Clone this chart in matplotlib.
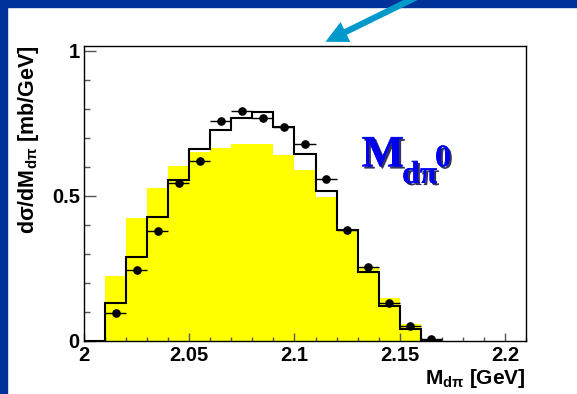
import numpy as np
import matplotlib
matplotlib.use("Agg")
import matplotlib.pyplot as plt
from matplotlib.patches import Rectangle, FancyArrowPatch
from matplotlib.ticker import MultipleLocator
import matplotlib.patheffects as pe

plt.rcParams["font.family"] = ["Liberation Sans", "DejaVu Sans"]
plt.rcParams["mathtext.fontset"] = "custom"
plt.rcParams["mathtext.rm"] = "Liberation Sans:bold"
plt.rcParams["mathtext.it"] = "Liberation Sans:bold"
plt.rcParams["mathtext.bf"] = "Liberation Sans:bold"

# Bin edges of the d-pi invariant mass histograms [GeV]
bin_edges = [2.00, 2.01, 2.02, 2.03, 2.04, 2.05, 2.06, 2.07, 2.08, 2.09,
             2.10, 2.11, 2.12, 2.13, 2.14, 2.15, 2.16, 2.17]

# Model curve (black step line) [mb/GeV]
model_values = [0.0, 0.130, 0.288, 0.427, 0.554, 0.661, 0.728, 0.768, 0.790,
                0.737, 0.645, 0.516, 0.381, 0.238, 0.121, 0.039, 0.0]

# Alternative calculation (yellow filled histogram) [mb/GeV]
band_values = [0.0, 0.224, 0.424, 0.528, 0.602, 0.650, 0.664, 0.678, 0.678,
               0.641, 0.589, 0.497, 0.381, 0.253, 0.146, 0.057, 0.0]

# Measured points
data_x = [2.015, 2.025, 2.035, 2.045, 2.055, 2.065, 2.075, 2.085,
          2.095, 2.105, 2.115, 2.125, 2.135, 2.145, 2.155, 2.165]
data_y = [0.094, 0.243, 0.380, 0.543, 0.620, 0.758, 0.793, 0.770,
          0.738, 0.678, 0.558, 0.383, 0.255, 0.131, 0.052, 0.005]
data_xerr = 0.005

x_ticks = [2.0, 2.05, 2.1, 2.15, 2.2]
x_tick_labels = ["2", "2.05", "2.1", "2.15", "2.2"]
y_ticks = [0, 0.5, 1]
y_tick_labels = ["0", "0.5", "1"]

W, H = 577, 394
fig = plt.figure(figsize=(W / 100, H / 100), dpi=100)
fig.patch.set_facecolor("white")

# slide frame: dark blue band on top and left
fig.add_artist(Rectangle((0, 1 - 7 / H), 1, 7 / H, transform=fig.transFigure,
                         color="#003399", zorder=0))
fig.add_artist(Rectangle((0, 0), 7 / W, 1, transform=fig.transFigure,
                         color="#003399", zorder=0))

ax = fig.add_axes([84 / W, (H - 340.7) / H, (526 - 84) / W, (340.7 - 45.7) / H])

ax.stairs(band_values, bin_edges, fill=True, color="#ffff00", linewidth=0, zorder=1)
ax.stairs(model_values, bin_edges, baseline=None, color="black", linewidth=1.5, zorder=2)
ax.errorbar(data_x, data_y, xerr=data_xerr, fmt="o", color="black", ms=5.2,
            elinewidth=1.0, capsize=0, zorder=3)

ax.set_xlim(2.0, 2.21)
ax.set_ylim(0, 1.018)

ax.set_xticks(x_ticks)
ax.set_xticklabels(x_tick_labels)
ax.set_yticks(y_ticks)
ax.set_yticklabels(y_tick_labels)
ax.xaxis.set_minor_locator(MultipleLocator(0.01))
ax.yaxis.set_minor_locator(MultipleLocator(0.1))

ax.tick_params(axis="both", which="both", direction="in", color="#555555",
               top=False, right=False, width=1)
ax.tick_params(axis="x", which="major", length=5.8, pad=4)
ax.tick_params(axis="x", which="minor", length=3.2)
ax.tick_params(axis="y", which="major", length=8.6, pad=3)
ax.tick_params(axis="y", which="minor", length=4.3)
for lab in ax.get_xticklabels() + ax.get_yticklabels():
    lab.set_fontsize(14.5)
    lab.set_fontweight("bold")

for s in ax.spines.values():
    s.set_linewidth(1.0)
    s.set_color("black")

ax.set_ylabel(r"d$\sigma$/dM$_{d\pi}$ [mb/GeV]", fontsize=15.5, fontweight="bold",
              loc="top")
ax.yaxis.set_label_coords(-0.097, 1.0)
ax.set_xlabel(r"M$_{d\pi}$ [GeV]", fontsize=15, fontweight="bold", loc="right")
ax.xaxis.set_label_coords(1.0, -0.088)

# channel label
shadow = [pe.withSimplePatchShadow(offset=(1.5, -1.5), shadow_rgbFace="#000033",
                                   alpha=0.8), pe.Normal()]
serif = ["Liberation Serif", "DejaVu Serif"]
ax.text(361.5, H - 166.5, "M", transform=None, fontsize=32.5, fontweight="bold",
        family=serif, color="#0000ee", ha="left", va="baseline",
        path_effects=shadow)
ax.text(402, H - 183, "dπ", transform=None, fontsize=23, fontweight="bold",
        family=serif, color="#0000ee", ha="left", va="baseline",
        path_effects=shadow)
ax.text(435, H - 166.5, "0", transform=None, fontsize=23, fontweight="bold",
        family=serif, color="#0000ee", ha="left", va="baseline",
        path_effects=shadow)

# pointer arrow at the top
fig.add_artist(FancyArrowPatch(
    (433, H + 11), (323, H - 43), transform=None,
    arrowstyle="simple,head_length=16,head_width=16,tail_width=4.5",
    color="#0099cc", linewidth=0, zorder=5, mutation_scale=1))

fig.savefig("out.png", dpi=100)
